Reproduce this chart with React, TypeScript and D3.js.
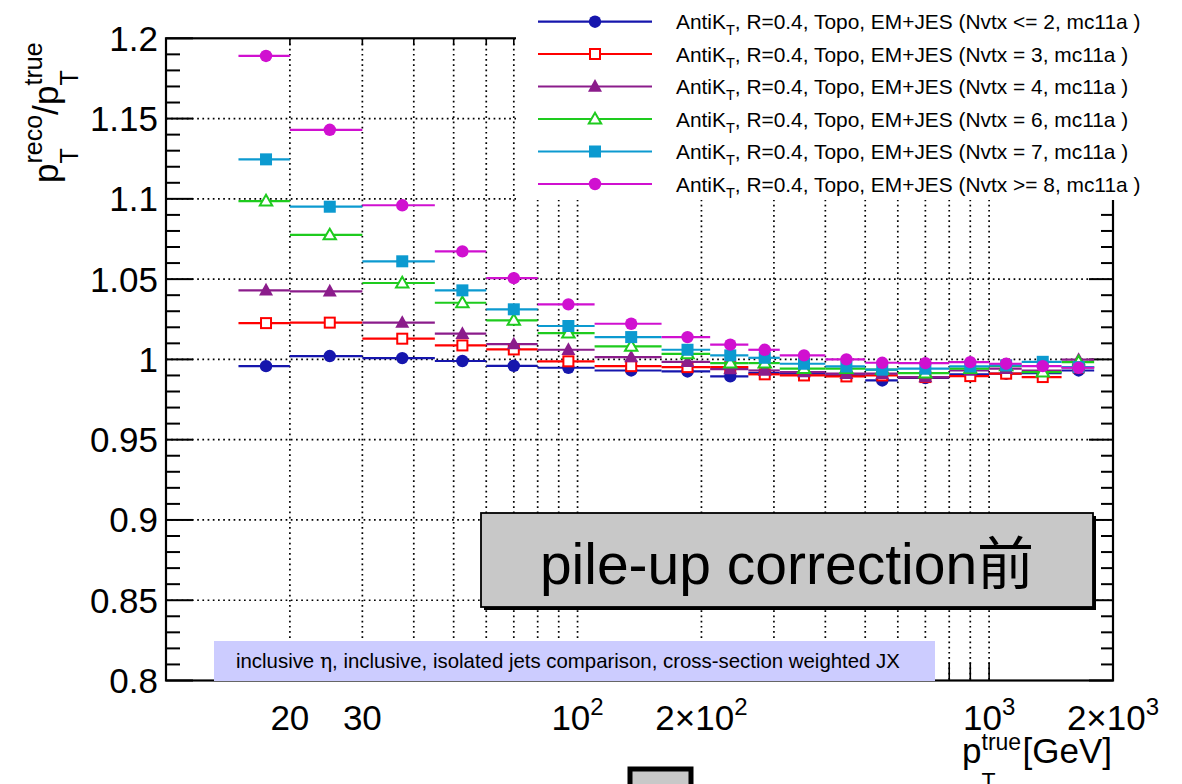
import React from "react";
import * as d3 from "d3";

// pT bin edges [GeV] and the bin centres where the markers sit
const binEdges = [15, 20, 30, 45, 60, 80, 110, 160, 210, 260, 310, 400, 500, 600, 800, 1000, 1200, 1500, 1800];
const binCenters = [17.5, 25, 37.5, 52.5, 70, 95, 135, 185, 235, 285, 355, 450, 550, 700, 900, 1100, 1350, 1650];

// Response pT(reco)/pT(true) per Nvtx category
const nvtxLe2 = [0.9958, 1.0021, 1.0008, 0.999, 0.996, 0.9948, 0.9931, 0.9925, 0.9894, 0.9915, 0.9911, 0.99, 0.9869, 0.9884, 0.9907, 0.9911, 0.9915, 0.9931];
const nvtx3 = [1.0226, 1.0229, 1.0129, 1.0087, 1.0062, 0.9988, 0.9958, 0.9952, 0.9952, 0.9907, 0.99, 0.9894, 0.99, 0.989, 0.9896, 0.9911, 0.989, 0.995];
const nvtx4 = [1.043, 1.0424, 1.0229, 1.016, 1.0095, 1.006, 1.0014, 0.9985, 0.994, 0.9931, 0.9921, 0.9911, 0.9911, 0.989, 0.9931, 0.9942, 0.993, 0.9998];
const nvtx6 = [1.0986, 1.0775, 1.0476, 1.0353, 1.0243, 1.0164, 1.0081, 1.0035, 0.9977, 0.9977, 0.9942, 0.9942, 0.9936, 0.9915, 0.9942, 0.996, 0.9921, 0.9983];
const nvtx7 = [1.1246, 1.0951, 1.0611, 1.043, 1.0312, 1.0208, 1.0139, 1.006, 1.0025, 1.001, 0.9973, 0.9956, 0.9936, 0.9942, 0.9956, 0.9963, 0.9985, 0.9952];
const nvtxGe8 = [1.189, 1.143, 1.096, 1.0673, 1.0506, 1.0343, 1.0222, 1.0139, 1.0092, 1.006, 1.0025, 1.0, 0.9979, 0.9977, 0.9983, 0.9973, 0.9958, 0.9948];

const seriesLabels = ["Nvtx <= 2", "Nvtx = 3", "Nvtx = 4", "Nvtx = 6", "Nvtx = 7", "Nvtx >= 8"];
const seriesValues = [nvtxLe2, nvtx3, nvtx4, nvtx6, nvtx7, nvtxGe8];
const seriesColors = ["#1616ad", "#ff0000", "#8b1c8b", "#1ecb1e", "#0c9ad0", "#d010d0"];
const seriesMarkers = ["circle", "openSquare", "triangle", "openTriangle", "square", "circle"];

// Axis ticks
const xGridValues = [20, 30, 40, 50, 60, 70, 80, 90, 100, 200, 300, 400, 500, 600, 700, 800, 900, 1000];
const xTickLabels = [
  { v: 20, base: "20", exp: "" },
  { v: 30, base: "30", exp: "" },
  { v: 100, base: "10", exp: "2" },
  { v: 200, base: "2\u00d710", exp: "2" },
  { v: 1000, base: "10", exp: "3" },
  { v: 2000, base: "2\u00d710", exp: "3" },
];
const yMajorTicks = [0.8, 0.85, 0.9, 0.95, 1.0, 1.05, 1.1, 1.15, 1.2];
const yTickLabels = ["0.8", "0.85", "0.9", "0.95", "1", "1.05", "1.1", "1.15", "1.2"];

const W = 1182;
const H = 784;
const L = 166;
const R = 1113;
const T = 38.3;
const B = 680.5;
const FONT = "'Liberation Sans', Arial, Helvetica, sans-serif";

const x = d3.scaleLog().domain([10, 2000]).range([L, R]);
const y = d3.scaleLinear().domain([0.8, 1.2]).range([B, T]);

function Marker({ kind, cx, cy, color }: { kind: string; cx: number; cy: number; color: string }) {
  const s = 6;
  if (kind === "circle") return <circle cx={cx} cy={cy} r={6.2} fill={color} />;
  if (kind === "square") return <rect x={cx - s} y={cy - s} width={2 * s} height={2 * s} fill={color} />;
  if (kind === "openSquare")
    return <rect x={cx - s + 1} y={cy - s + 1} width={2 * s - 2} height={2 * s - 2} fill="#fff" stroke={color} strokeWidth={2} />;
  const tri = `M${cx},${cy - 7.5} L${cx + 7},${cy + 5.2} L${cx - 7},${cy + 5.2} Z`;
  if (kind === "triangle") return <path d={tri} fill={color} />;
  const tri2 = `M${cx},${cy - 6.3} L${cx + 6.2},${cy + 4.4} L${cx - 6.2},${cy + 4.4} Z`;
  return <path d={tri2} fill="#fff" stroke={color} strokeWidth={2} />;
}

export default function App() {
  const minorY = d3.range(80, 121).map((k) => k / 100);
  const legendRows = [21.7, 54, 86.5, 119, 151.5, 184];

  return (
    <svg width={W} height={H} style={{ position: "absolute", left: 0, top: 0, background: "#fff" }} fontFamily={FONT}>
      {/* grid */}
      <g stroke="#000" strokeWidth={1.7} strokeDasharray="1.7,3.5">
        {xGridValues.map((v) => (
          <line key={"gx" + v} x1={x(v)} x2={x(v)} y1={T} y2={B} />
        ))}
        {yMajorTicks.slice(1, -1).map((v) => (
          <line key={"gy" + v} x1={L} x2={R} y1={y(v)} y2={y(v)} />
        ))}
      </g>

      {/* frame and ticks */}
      <g stroke="#000" fill="none">
        <rect x={L} y={T} width={R - L} height={B - T} strokeWidth={2.2} />
        {minorY.map((v, i) => {
          const major = i % 5 === 0;
          return (
            <g key={"ty" + i}>
              <line x1={L} x2={L + (major ? 27 : 14)} y1={y(v)} y2={y(v)} strokeWidth={2} />
              <line x1={R} x2={R - (major ? 24 : 12)} y1={y(v)} y2={y(v)} strokeWidth={2} />
            </g>
          );
        })}
        {xGridValues.map((v) => (
          <g key={"tx" + v}>
            <line x1={x(v)} x2={x(v)} y1={B} y2={B - 18} strokeWidth={1.6} />
            <line x1={x(v)} x2={x(v)} y1={T} y2={T + 7} strokeWidth={1.6} />
          </g>
        ))}
      </g>

      {/* y tick labels */}
      <g fontSize={35} textAnchor="end" fill="#000">
        {yMajorTicks.map((v, i) => (
          <text key={"ly" + v} x={158} y={y(v) + 12.5}>
            {yTickLabels[i]}
          </text>
        ))}
      </g>

      {/* x tick labels */}
      <g fontSize={35} textAnchor="middle" fill="#000">
        {xTickLabels.map((t) => (
          <text key={"lx" + t.v} x={x(t.v)} y={730}>
            {t.base}
            {t.exp && (
              <tspan dy={-15} fontSize={24}>
                {t.exp}
              </tspan>
            )}
          </text>
        ))}
      </g>

      {/* y axis title */}
      <g transform="translate(58,183) rotate(-90)" fill="#000">
        <text fontSize={35}>
          <tspan x={0} y={0}>p</tspan>
          <tspan x={19.5} y={20} fontSize={25}>T</tspan>
          <tspan x={19.5} y={-16} fontSize={25}>reco</tspan>
          <tspan x={68} y={0}>/</tspan>
          <tspan x={78} y={0}>p</tspan>
          <tspan x={97.5} y={20} fontSize={25}>T</tspan>
          <tspan x={97.5} y={-16} fontSize={25}>true</tspan>
        </text>
      </g>

      {/* x axis title */}
      <text fontSize={35} fill="#000">
        <tspan x={962} y={763}>p</tspan>
        <tspan x={981.5} y={790} fontSize={23}>T</tspan>
        <tspan x={981.5} y={750} fontSize={23}>true</tspan>
        <tspan x={1022.5} y={763}>[GeV]</tspan>
      </text>

      {/* data: horizontal bin bars, then markers */}
      {seriesValues.map((vals, si) => (
        <g key={"s" + si}>
          {vals.map((v, i) => (
            <line
              key={"b" + i}
              x1={x(binEdges[i])}
              x2={x(binEdges[i + 1])}
              y1={y(v)}
              y2={y(v)}
              stroke={seriesColors[si]}
              strokeWidth={2.2}
            />
          ))}
          {vals.map((v, i) => (
            <Marker key={"m" + i} kind={seriesMarkers[si]} cx={x(binCenters[i])} cy={y(v)} color={seriesColors[si]} />
          ))}
        </g>
      ))}

      {/* legend */}
      <rect x={516} y={0} width={W - 516} height={200} fill="#fff" />
      {seriesLabels.map((lab, i) => (
        <g key={"lg" + i}>
          <line x1={538} x2={652} y1={legendRows[i]} y2={legendRows[i]} stroke={seriesColors[i]} strokeWidth={2.2} />
          <Marker kind={seriesMarkers[i]} cx={595} cy={legendRows[i]} color={seriesColors[i]} />
          <text x={676} y={legendRows[i] + 7.5} fontSize={20.9} fill="#000">
            AntiK
            <tspan dy={6} fontSize={14.5}>T</tspan>
            <tspan dy={-6}>{`, R=0.4, Topo, EM+JES (${lab}, mc11a )`}</tspan>
          </text>
        </g>
      ))}

      {/* selection label */}
      <rect x={214} y={641} width={721} height={40} fill="#ccccff" />
      <text x={236} y={668} fontSize={20.4} fill="#000">
        inclusive <tspan fontFamily="'DejaVu Serif', serif">{"\u03b7"}</tspan>, inclusive, isolated jets comparison, cross-section weighted JX
      </text>

      {/* title box */}
      <rect x={484} y={516} width={612} height={94} fill="#000" />
      <rect x={481} y={513} width={612} height={94} fill="#c8c8c8" stroke="#000" strokeWidth={1.8} />
      <text
        x={787}
        y={584}
        fontSize={57}
        textAnchor="middle"
        fill="#000"
        fontFamily="'Liberation Sans', Arial, 'Noto Sans CJK JP', sans-serif"
      >
        pile-up correction前
      </text>

      {/* box at the bottom edge */}
      <rect x={630} y={769} width={61} height={30} fill="#c8c8c8" stroke="#000" strokeWidth={5} />
    </svg>
  );
}
